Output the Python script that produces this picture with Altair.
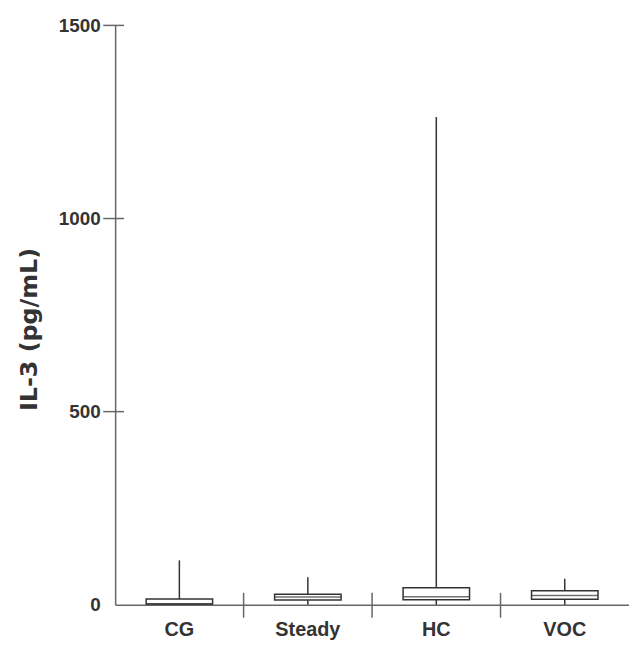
import altair as alt
import pandas as pd

categories = ["CG", "Steady", "HC", "VOC"]
lower = [0, 0, 0, 0]
q1 = [2, 12, 12.8, 14]
median = [2, 20, 20.5, 24]
q3 = [15, 27, 43.7, 36]
upper = [115, 71, 1263, 67]
y_ticks = [0, 500, 1000, 1500]
separators = ["Steady", "HC", "VOC"]

df = pd.DataFrame({"cat": categories, "lo": lower, "q1": q1, "med": median, "q3": q3, "hi": upper})
sep_df = pd.DataFrame({"cat": separators})
tick_df = pd.DataFrame({"v": [t for t in y_ticks if t > 0]})

TEXT = "#333333"
AXIS = "#666666"
BOX = "#333333"
FONT = "Liberation Sans"

xscale = alt.Scale(domain=categories, paddingInner=0, paddingOuter=0)
yscale = alt.Scale(domain=[0, 1500], nice=False)

x_enc = alt.X("cat:N", scale=xscale, sort=categories, title=None,
              axis=alt.Axis(ticks=False, labelAngle=0, labelFont=FONT, labelFontSize=20,
                            labelFontWeight="bold", labelColor=TEXT, labelPadding=15,
                            domainColor=AXIS, domainWidth=1.5))
y_axis = alt.Axis(values=y_ticks, format="d", ticks=False, grid=False, labelFont=FONT,
                  labelFontSize=19, labelFontWeight="bold", labelColor=TEXT, labelPadding=15,
                  domainColor=AXIS, domainWidth=1.5,
                  title="IL-3 (pg/mL)", titleFont="DejaVu Sans", titleFontSize=24,
                  titleFontWeight="bold", titleColor=TEXT, titleX=-86, titleY=306,
                  titleAngle=-90, titleAlign="center", titleBaseline="middle")

whisker = alt.Chart(df).mark_rule(color=BOX, strokeWidth=1.5).encode(
    x=x_enc,
    y=alt.Y("lo:Q", scale=yscale, axis=y_axis),
    y2="hi:Q",
)
box = alt.Chart(df).mark_bar(size=67, fill="white", stroke=BOX, strokeWidth=1.5).encode(
    x=x_enc,
    y=alt.Y("q1:Q", scale=yscale),
    y2="q3:Q",
)
med = alt.Chart(df).mark_tick(size=67, thickness=1.5, color=BOX, orient="horizontal").encode(
    x=x_enc,
    y=alt.Y("med:Q", scale=yscale),
)
seps = alt.Chart(sep_df).mark_rule(color=AXIS, strokeWidth=1.5).encode(
    x=alt.X("cat:N", scale=xscale, sort=categories, bandPosition=0),
    y=alt.value(572),
    y2=alt.value(597),
)
yt = alt.Chart(tick_df).mark_rule(color=AXIS, strokeWidth=1.5).encode(
    x=alt.value(-12),
    x2=alt.value(9),
    y=alt.Y("v:Q", scale=yscale),
)

chart = alt.layer(whisker, box, med, seps, yt).properties(
    width=518, height=584,
    autosize=alt.AutoSizeParams(type="none"),
    padding={"left": 108, "top": 15, "right": 0, "bottom": 34},
    background="white",
).configure_view(stroke=None)

chart.save("out.html", embed_options={"renderer": "svg", "actions": False})
